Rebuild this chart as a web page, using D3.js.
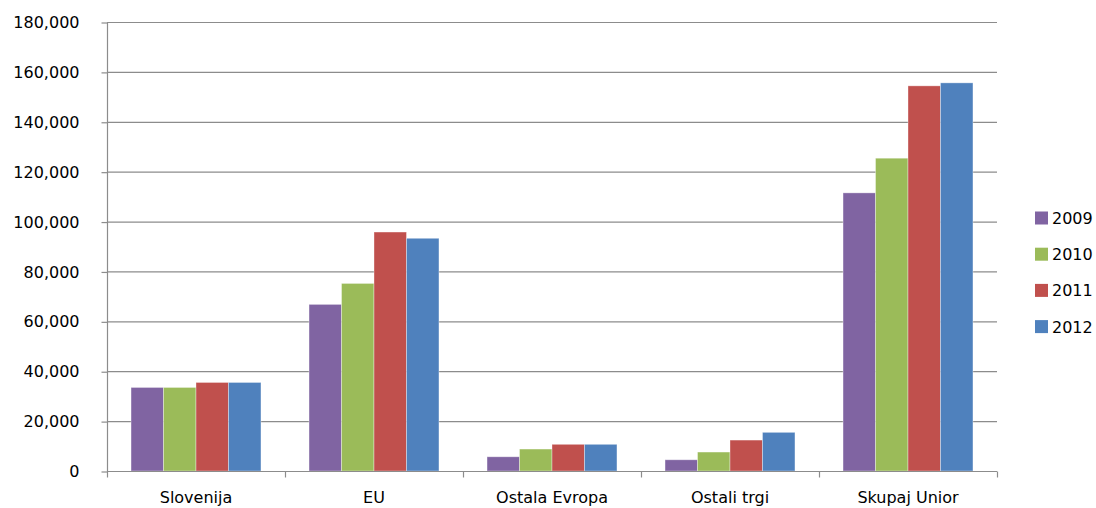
<!DOCTYPE html>
<html><head><meta charset="utf-8">
<script src="https://cdn.jsdelivr.net/npm/d3@7"></script>
<style>body{margin:0;background:#fff}svg{display:block}text{font-family:"DejaVu Sans",sans-serif;fill:#000}</style>
</head><body><svg id="c" width="1096" height="508"></svg>
<script>
const categories = ["Slovenija","EU","Ostala Evropa","Ostali trgi","Skupaj Unior"];
const seriesNames = ["2009","2010","2011","2012"];
const v2009 = [33500, 66800, 5700, 4500, 111500];
const v2010 = [33500, 75200, 8800, 7600, 125400];
const v2011 = [35500, 95800, 10700, 12400, 154400];
const v2012 = [35500, 93300, 10700, 15500, 155600];
const yTicks = [0,20000,40000,60000,80000,100000,120000,140000,160000,180000];
const colors = ["#8064A2","#9BBB59","#C0504D","#4F81BD"];
const series = [v2009, v2010, v2011, v2012];

const svg = d3.select("#c");
const L = 107, R = 997, T = 22, B = 471;
const y = d3.scaleLinear().domain([0,180000]).range([B,T]);
const x0 = d3.scaleBand().domain(categories).range([L,R]).paddingInner(0.27).paddingOuter(0.135);
const x1 = d3.scaleBand().domain(seriesNames).range([0,x0.bandwidth()]);
const grid = "#8c8c8c";

// gridlines
svg.append("g").selectAll("line").data(yTicks.filter(d=>d>0)).join("line")
  .attr("x1",L).attr("x2",R).attr("y1",d=>y(d)+0.5).attr("y2",d=>y(d)+0.5)
  .attr("stroke",grid).attr("stroke-width",1.2);

// bars
const g = svg.append("g");
categories.forEach((c,i)=>{
  seriesNames.forEach((s,j)=>{
    g.append("rect").attr("x",x0(c)+x1(s)).attr("y",y(series[j][i]))
     .attr("width",x1.bandwidth()).attr("height",B-y(series[j][i]))
     .attr("fill",colors[j]).attr("stroke","rgba(255,255,255,0.45)").attr("stroke-width",0.8);
  });
});

// y axis
const ya = svg.append("g").attr("transform",`translate(${L+0.5},0.5)`)
  .call(d3.axisLeft(y).tickValues(yTicks).tickSize(6).tickPadding(22).tickFormat(d3.format(",")));
ya.select(".domain").attr("stroke",grid).attr("stroke-width",1.2).attr("d",`M-0,${T}V${B}`);
ya.selectAll(".tick line").attr("stroke",grid).attr("stroke-width",1.2);
ya.selectAll("text").style("font-size","16px").attr("fill","#000");

// x axis
const xa = svg.append("g").attr("transform",`translate(0,${B+0.5})`);
xa.append("line").attr("x1",L).attr("x2",R).attr("stroke",grid).attr("stroke-width",1.2);
const bounds = [L].concat(categories.map(c=>x0(c)+x0.bandwidth()+x0.step()*0.135));
xa.selectAll("line.t").data(bounds).join("line").attr("class","t")
  .attr("x1",d=>Math.round(d)+0.5).attr("x2",d=>Math.round(d)+0.5).attr("y1",0).attr("y2",6)
  .attr("stroke",grid).attr("stroke-width",1.2);
xa.selectAll("text").data(categories).join("text")
  .attr("x",d=>x0(d)+x0.bandwidth()/2).attr("y",31).attr("text-anchor","middle")
  .style("font-size","16px").text(d=>d);

// legend
const lg = svg.append("g");
seriesNames.forEach((s,j)=>{
  const cy = 218 + j*36.2;
  lg.append("rect").attr("x",1035).attr("y",cy-6.5).attr("width",13).attr("height",13).attr("fill",colors[j]);
  lg.append("text").attr("x",1052).attr("y",cy+6).style("font-size","16px").text(s);
});
</script></body></html>
